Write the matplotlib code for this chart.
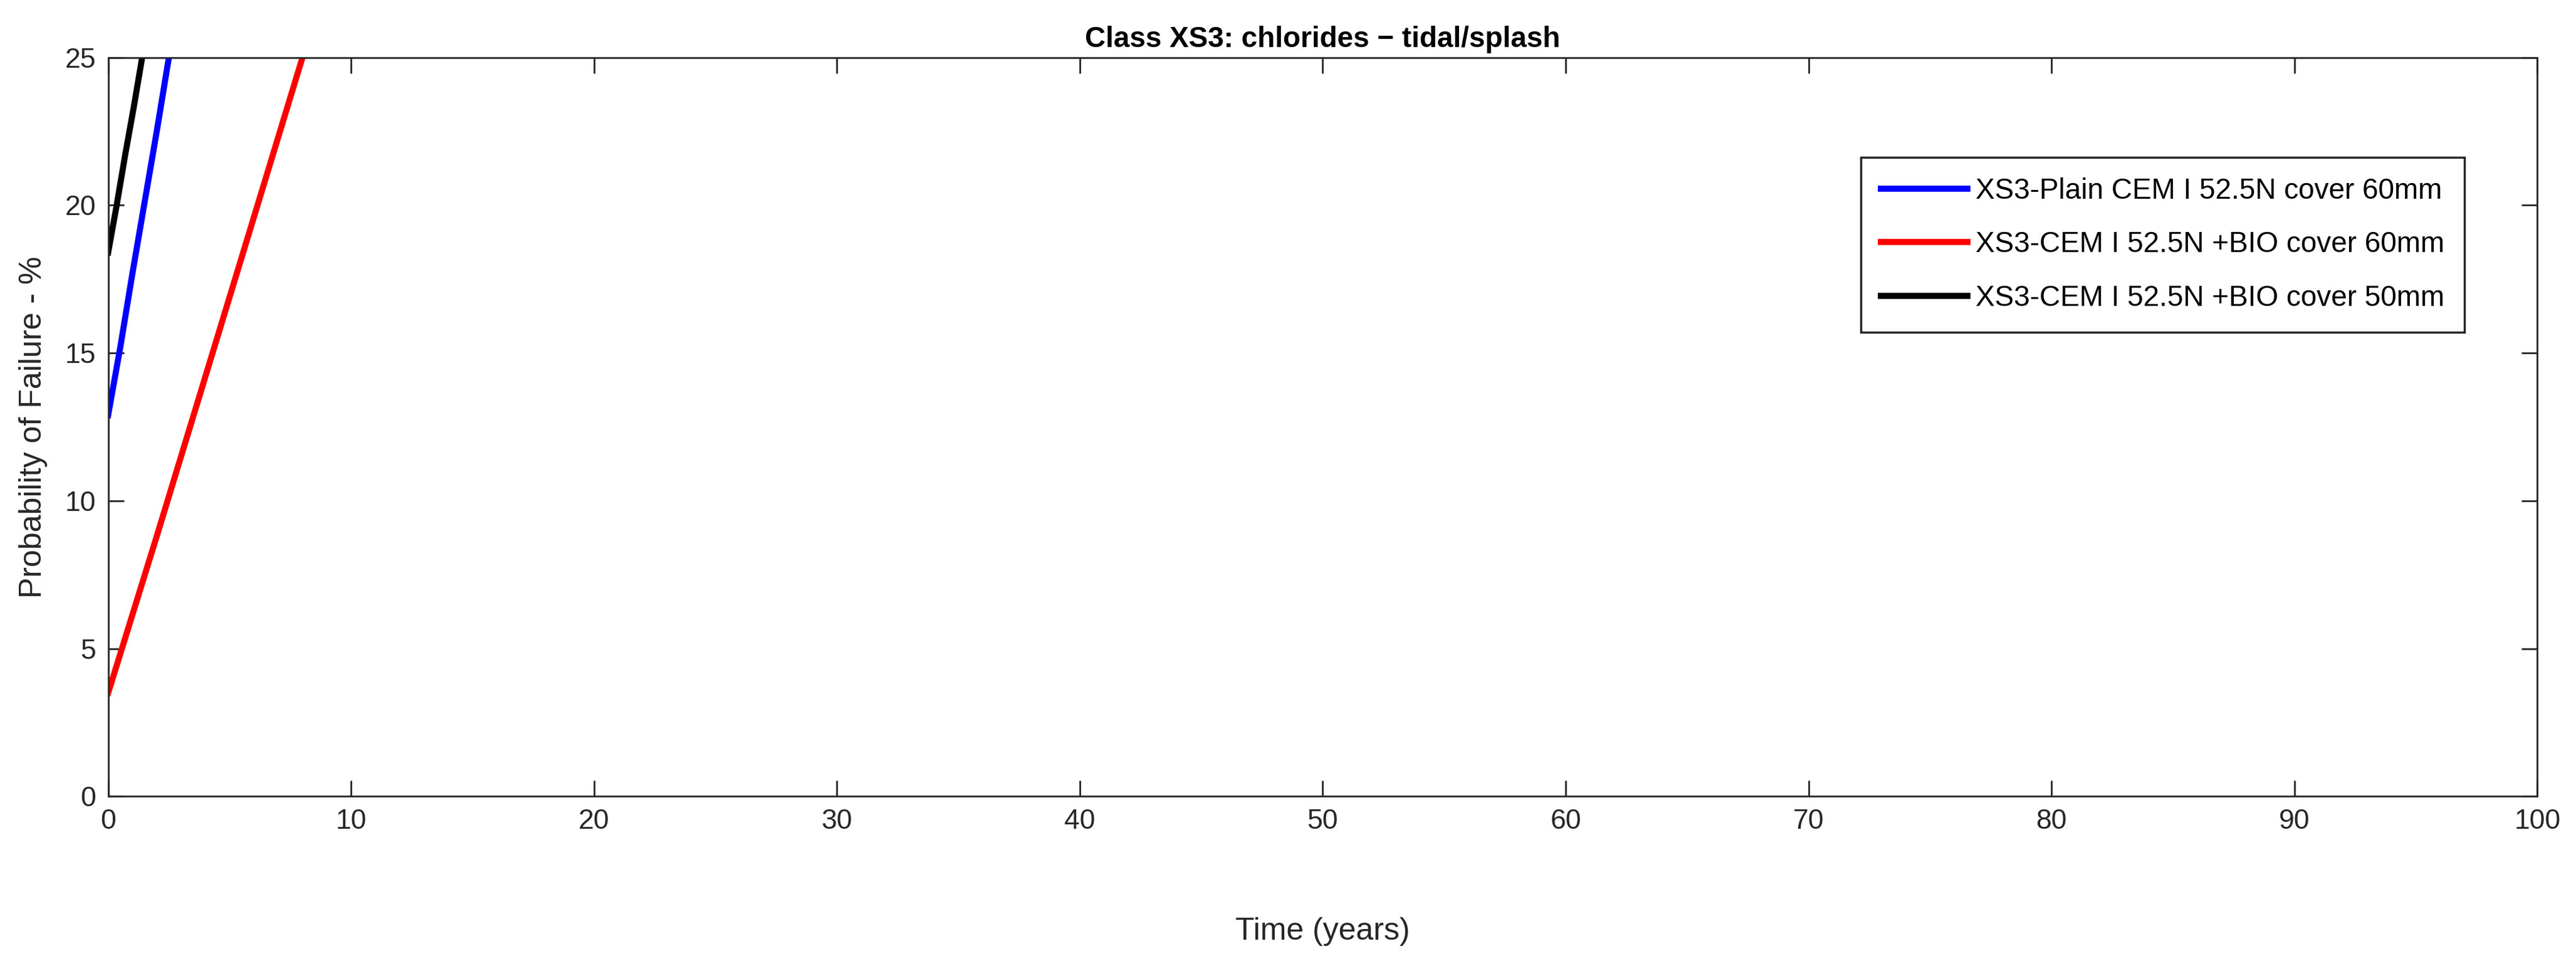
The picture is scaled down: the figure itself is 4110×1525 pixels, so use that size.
import matplotlib
matplotlib.use("Agg")
import matplotlib.pyplot as plt

t_plain = [0.0, 0.5, 1.0, 1.5, 2.0, 2.5]
p_plain = [12.9, 15.2, 17.7, 20.1, 22.5, 25.0]
t_bio60 = [0.0, 2.0, 4.0, 6.0, 8.0]
p_bio60 = [3.5, 8.8, 14.2, 19.6, 25.0]
t_bio50 = [0.0, 0.35, 0.7, 1.05, 1.4]
p_bio50 = [18.4, 20.0, 21.7, 23.3, 25.0]
labels = ["XS3-Plain CEM I 52.5N cover 60mm",
          "XS3-CEM I 52.5N +BIO cover 60mm",
          "XS3-CEM I 52.5N +BIO cover 50mm"]
xticks = list(range(0, 101, 10))
yticks = list(range(0, 26, 5))

plt.rcParams['font.family'] = ['Liberation Sans', 'DejaVu Sans']
fig = plt.figure(figsize=(41.1, 15.25), dpi=100)
ax = fig.add_axes([0.042, 0.167, 0.943, 0.773])
lw = 7
ax.plot(t_plain, p_plain, color='#0000ff', lw=lw, label=labels[0])
ax.plot(t_bio60, p_bio60, color='#ff0000', lw=lw, label=labels[1])
ax.plot(t_bio50, p_bio50, color='black', lw=lw, label=labels[2])
ax.set_xlim(0, 100)
ax.set_ylim(0, 25)
ax.set_xticks(xticks)
ax.set_yticks(yticks)
ax.tick_params(direction='in', top=True, right=True, length=18, width=2,
               labelsize=32, colors='#262626', pad=14)
for s in ax.spines.values():
    s.set_linewidth(2)
    s.set_color('#262626')
ax.set_title("Class XS3: chlorides \u2212 tidal/splash", fontsize=33, fontweight='bold', pad=12)
ax.set_xlabel("Time (years)", fontsize=36, color='#262626', labelpad=95)
ax.set_ylabel("Probability of Failure - %", fontsize=36, color='#262626', labelpad=20)
leg = ax.legend(loc='upper right', bbox_to_anchor=(0.976, 0.884), fontsize=33,
                fancybox=False, edgecolor='#262626', framealpha=1,
                handlelength=3.0, borderpad=0.7, labelspacing=0.9, handletextpad=0.3)
leg.get_frame().set_linewidth(2.5)
fig.savefig("out.png", dpi=100)
